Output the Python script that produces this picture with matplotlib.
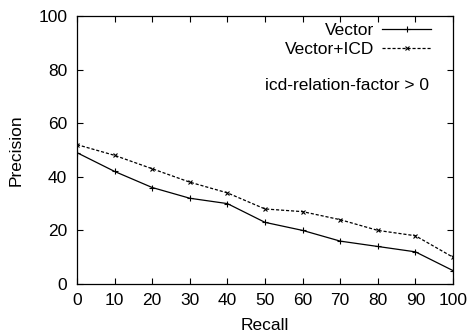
import matplotlib
matplotlib.use("Agg")
import matplotlib.pyplot as plt

recall = [0, 10, 20, 30, 40, 50, 60, 70, 80, 90, 100]
vector = [49, 42, 36, 32, 30, 23, 20, 16, 14, 12, 5]
vector_icd = [52, 48, 43, 38, 34, 28, 27, 24, 20, 18, 10]
xticks = [0, 10, 20, 30, 40, 50, 60, 70, 80, 90, 100]
yticks = [0, 20, 40, 60, 80, 100]

plt.rcParams["font.family"] = ["Liberation Sans", "DejaVu Sans"]
plt.rcParams["font.size"] = 12.5

fig = plt.figure(figsize=(4.67, 3.35), dpi=100)
ax = fig.add_axes([77 / 467, 51 / 335, 376 / 467, 268 / 335])

ax.plot(recall, vector, color="black", lw=0.9, marker="+", ms=4, mew=0.8,
        label="Vector")
ax.plot(recall, vector_icd, color="black", lw=0.9, ls=(0, (2.5, 1.5)), marker="x",
        ms=3.5, mew=0.8, label="Vector+ICD")

ax.set_xlim(0, 100)
ax.set_ylim(0, 100)
ax.set_xticks(xticks)
ax.set_yticks(yticks)
ax.tick_params(direction="in", top=True, right=True, length=4.5, width=0.8)
ax.tick_params(axis="x", pad=6.5)
ax.tick_params(axis="y", pad=7)
for s in ax.spines.values():
    s.set_linewidth(0.9)

ax.set_xlabel("Recall")
ax.set_ylabel("Precision")
ax.xaxis.set_label_coords(0.5, (284 - 318) / 268)
ax.yaxis.set_label_coords((24 - 77) / 376, 0.5)

ax.legend(loc="upper right", bbox_to_anchor=(0.974, 1.018), frameon=False,
          markerfirst=False, numpoints=1, handlelength=2.8, handletextpad=0.45,
          labelspacing=0.2, borderpad=0.2)
ax.text(0.935, 0.74, "icd-relation-factor > 0", transform=ax.transAxes,
        ha="right", va="center")

fig.savefig("out.png", dpi=100)
